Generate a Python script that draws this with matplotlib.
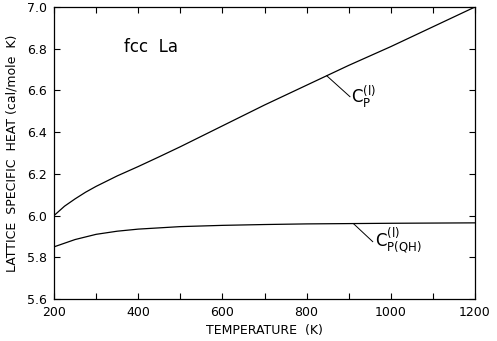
import numpy as np
import matplotlib
matplotlib.use("Agg")
import matplotlib.pyplot as plt
from matplotlib.ticker import MultipleLocator

plt.rcParams["font.family"] = "DejaVu Sans"
plt.rcParams["mathtext.fontset"] = "dejavusans"

# curve values
temp_cp = [200, 225, 250, 275, 300, 350, 400, 450, 500, 600, 700, 800, 900, 1000, 1100, 1200]
cp = [6.00, 6.045, 6.08, 6.112, 6.14, 6.19, 6.235, 6.282, 6.33, 6.43, 6.53, 6.625, 6.72, 6.81, 6.905, 7.00]

temp_qh = [200, 250, 300, 350, 400, 500, 600, 700, 800, 1000, 1200]
cp_qh = [5.85, 5.885, 5.91, 5.925, 5.935, 5.947, 5.953, 5.957, 5.96, 5.963, 5.965]

fig = plt.figure(figsize=(4.97, 3.41), dpi=100)
ax = fig.add_axes([0.1087, 0.1232, 0.8470, 0.8563])

ax.plot(temp_cp, cp, color="k", lw=0.9)
ax.plot(temp_qh, cp_qh, color="k", lw=0.9)

ax.set_xlim(200, 1200)
ax.set_ylim(5.6, 7.0)

ax.xaxis.set_major_locator(MultipleLocator(200))
ax.xaxis.set_minor_locator(MultipleLocator(100))
ax.yaxis.set_major_locator(MultipleLocator(0.2))
ax.yaxis.set_major_formatter(plt.FormatStrFormatter("%.1f"))
ax.tick_params(which="both", direction="in", top=True, right=True,
               length=4, width=0.8, labelsize=9, pad=5)

for s in ax.spines.values():
    s.set_linewidth(0.9)

ax.set_xlabel("TEMPERATURE  (K)", fontsize=9, labelpad=4)
ax.set_ylabel("LATTICE  SPECIFIC  HEAT (cal/mole  K)", fontsize=9, labelpad=6)

# labels and leader lines
ax.text(430, 6.81, "fcc  La", fontsize=12, ha="center", va="center")

ax.plot([848, 903], [6.67, 6.57], color="k", lw=0.7)
ax.text(906, 6.57, r"$\mathrm{C_P^{(l)}}$", fontsize=12, ha="left", va="center")

ax.plot([912, 957], [5.96, 5.875], color="k", lw=0.7)
ax.text(962, 5.875, r"$\mathrm{C_{P(QH)}^{(l)}}$", fontsize=12, ha="left", va="center")

fig.savefig("out.png", dpi=100)
